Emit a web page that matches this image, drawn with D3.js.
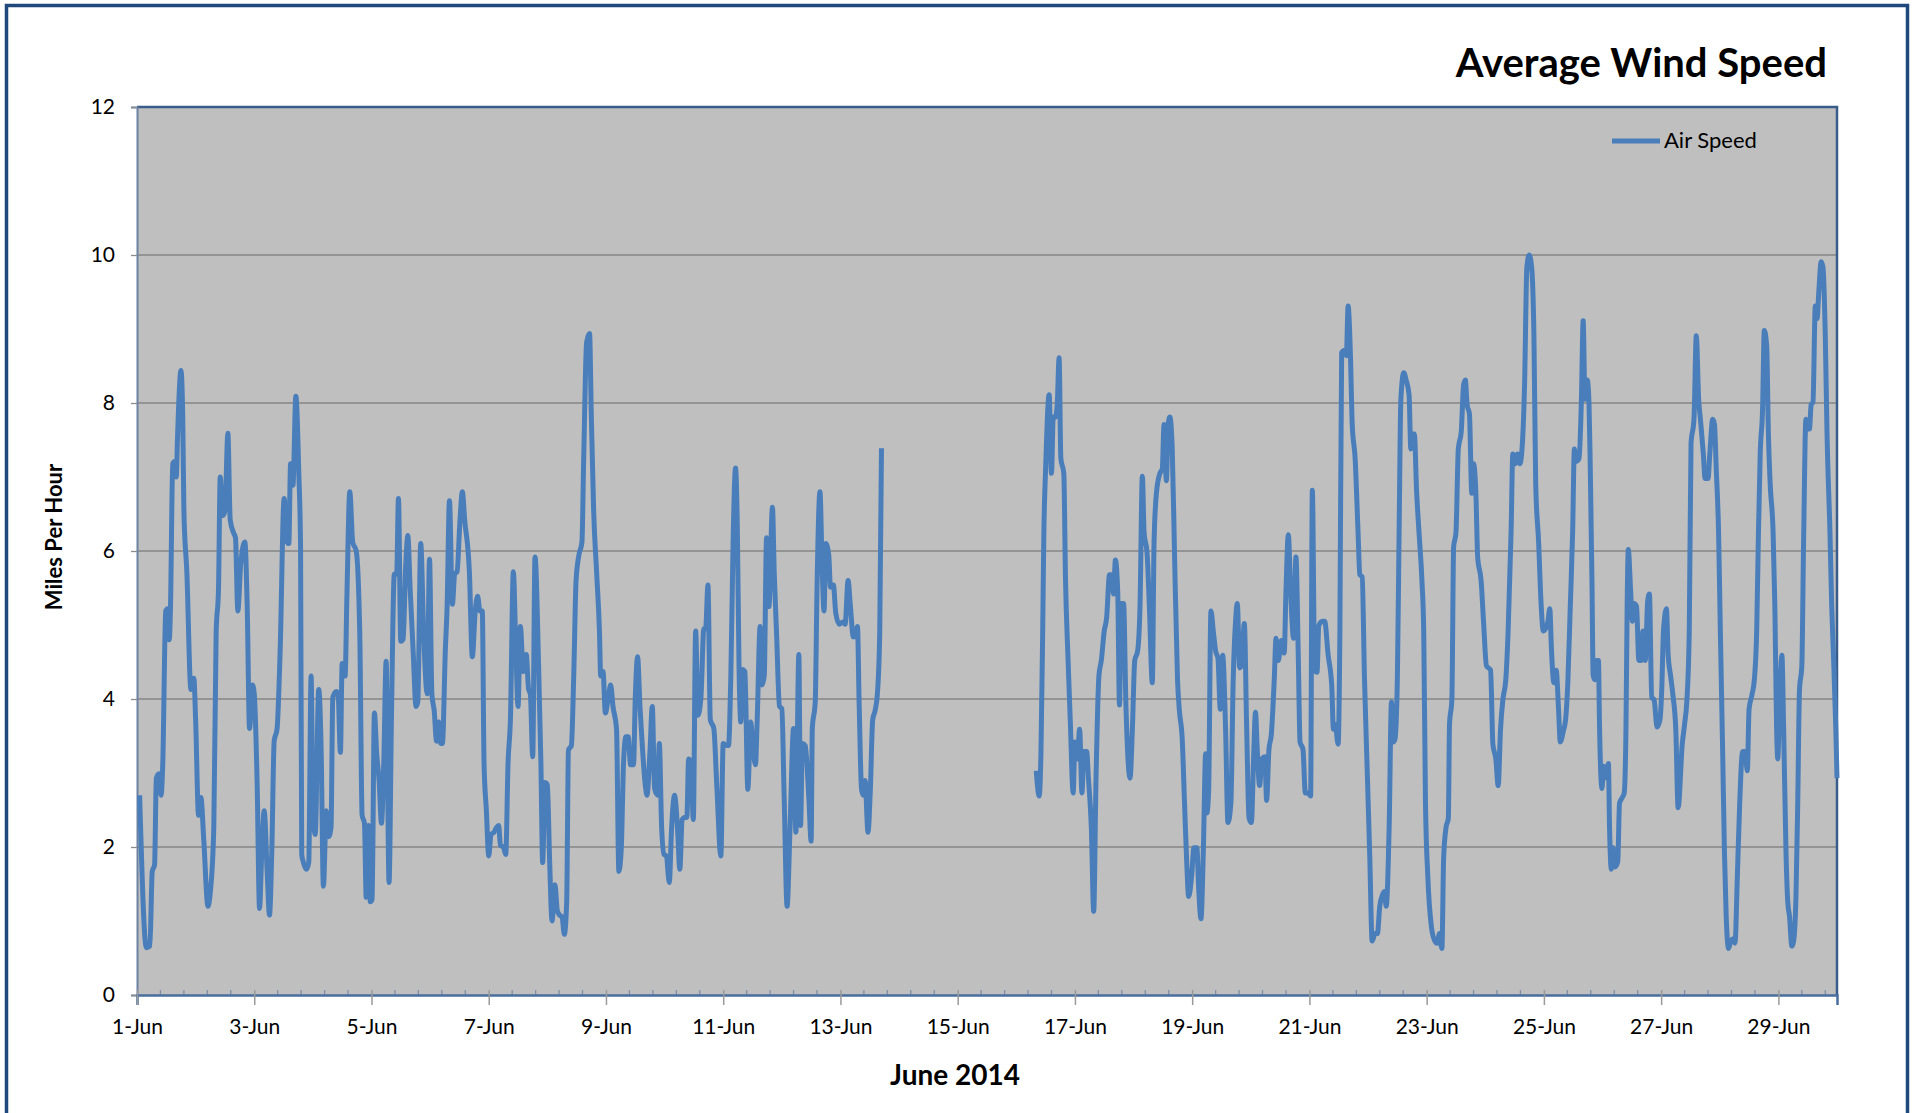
<!DOCTYPE html>
<html>
<head>
<meta charset="utf-8">
<script src="https://cdn.jsdelivr.net/npm/d3@7"></script>
<style>
  body { margin: 0; background: #fff; }
  text { font-family: Lato, "Open Sans", sans-serif; fill: #000; }
</style>
</head>
<body>
<svg width="1917" height="1113"></svg>
<script>
// days after 1-Jun-2014 00:00, null = no data (gap 13-Jun .. 16-Jun)
var days = [0.045,0.16,0.22,0.26,0.30,0.33,0.375,0.41,0.44,0.49,0.52,0.55,0.57,0.61,0.64,0.67,0.69,0.75,0.78,0.80,
0.85,0.92,0.97,1.00,1.05,1.09,1.14,1.21,1.25,1.31,1.35,1.39,1.42,1.46,1.50,1.55,1.59,1.65,1.68,1.72,
1.77,1.84,1.88,1.92,1.97,2.00,2.05,2.09,2.13,2.17,2.22,2.26,2.30,2.34,2.39,2.44,2.51,2.56,2.59,2.62,
2.66,2.71,2.76,2.79,2.81,2.84,2.89,2.93,2.97,3.00,3.04,3.10,3.14,3.18,3.23,3.27,3.31,3.34,3.40,3.43,
3.47,3.50,3.55,3.58,3.63,3.68,3.74,3.80,3.84,3.88,3.91,3.95,3.98,4.01,4.05,4.09,4.13,4.17,4.21,4.25,
4.30,4.34,4.39,4.43,4.46,4.50,4.54,4.58,4.62,4.66,4.71,4.76,4.79,4.84,4.89,4.95,4.99,
5.03,5.07,5.11,5.15,5.18,5.21,5.26,5.29,5.33,5.38,5.42,5.46,5.51,5.55,5.59,5.67,5.72,5.77,5.81,5.85,
5.89,5.92,5.96,6.00,6.04,6.09,6.13,6.17,6.20,6.25,6.29,6.33,6.37,6.42,6.46,6.50,6.54,6.59,6.64,6.68,
6.71,6.75,6.79,6.85,6.89,6.92,6.96,7.00,7.04,7.08,7.13,7.17,7.21,7.25,7.29,7.33,7.36,7.41,7.45,7.49,
7.54,7.59,7.62,7.67,7.72,7.75,7.79,7.84,7.89,7.91,7.95,7.99,8.04,8.08,8.12,8.18,8.22,8.26,8.30,8.34,
8.38,8.42,8.47,8.50,8.54,8.58,8.62,8.67,8.70,8.75,8.79,8.83,8.88,8.91,8.95,8.99,9.03,9.08,9.12,9.17,
9.22,9.26,9.30,9.34,9.38,9.41,9.45,9.49,9.53,9.57,9.62,9.67,9.70,9.74,9.78,
9.84,9.89,9.96,10.00,10.06,10.09,10.13,10.17,10.21,10.24,10.27,10.30,10.33,10.37,10.42,10.47,10.50,10.55,10.58,10.63,
10.66,10.70,10.74,10.78,10.84,10.87,10.91,10.96,11.00,11.04,11.09,11.14,11.20,11.24,11.29,11.32,11.35,11.40,11.46,11.50,
11.52,11.57,11.60,11.65,11.69,11.72,11.75,11.80,11.83,11.88,11.92,11.98,12.04,12.08,12.13,12.17,12.22,12.26,12.29,12.32,
12.36,12.39,12.42,12.47,12.51,12.55,12.59,12.63,12.67,12.70,
14.0,
15.34,15.39,15.42,15.45,15.47,15.50,15.56,15.60,15.63,15.67,15.70,15.73,15.76,15.81,15.84,15.88,15.92,15.97,16.00,16.04,
16.08,16.12,16.15,16.20,16.23,16.28,16.32,16.36,16.41,16.45,16.50,16.54,16.59,16.62,16.66,16.69,16.73,16.76,16.79,16.83,
16.87,16.94,16.98,17.02,17.07,17.11,17.15,17.18,17.23,17.27,17.32,17.35,17.39,17.45,17.49,17.52,17.56,17.59,17.62,17.66,
17.70,17.75,17.78,17.83,17.87,17.91,17.94,17.99,18.03,18.08,18.11,18.15,18.19,18.23,18.25,18.28,18.32,18.36,18.40,18.44,
18.48,18.52,18.57,18.61,18.66,18.70,18.74,18.77,18.81,18.84,18.89,18.93,18.97,19.01,19.05,19.08,19.11,19.15,19.19,19.24,
19.27,19.31,19.35,19.40,19.43,19.47,19.52,19.57,19.60,19.64,19.68,19.73,19.77,19.81,19.84,19.89,19.93,19.98,20.02,20.05,
20.09,20.13,20.16,20.22,20.26,20.32,20.38,20.41,20.44,20.49,20.52,20.55,20.59,20.63,20.66,20.70,20.73,20.78,20.83,20.86,
20.90,20.94,20.99,21.03,21.07,21.12,21.16,21.20,21.25,21.28,21.31,21.36,21.40,21.43,21.46,21.50,21.53,21.56,21.61,21.65,
21.70,21.73,21.76,21.79,21.83,21.87,21.92,21.95,21.98,22.02,22.08,22.14,22.18,22.22,22.26,22.29,22.33,22.37,22.39,22.43,
22.46,22.50,22.54,22.59,22.63,22.66,22.69,22.73,22.77,22.80,22.84,22.87,22.93,22.97,23.02,23.09,23.13,23.18,23.22,23.26,
23.30,23.35,23.39,23.44,23.47,23.51,23.55,23.59,23.62,23.67,23.71,23.75,23.79,23.83,23.86,23.91,23.95,23.99,24.03,24.07,
24.10,24.13,24.17,24.21,24.25,24.28,24.33,24.37,24.41,24.45,24.49,24.52,24.55,24.60,24.64,24.67,24.70,24.74,24.77,24.79,
24.82,24.84,24.87,24.90,24.93,24.95,24.99,25.02,25.07,25.10,25.12,25.15,25.18,25.21,25.26,25.29,25.33,25.37,25.40,25.42,
25.44,25.48,25.51,25.54,25.58,25.62,25.66,25.69,25.73,25.77,25.80,25.84,25.88,25.93,25.98,26.01,26.04,26.09,26.12,26.16,
26.20,26.25,26.29,26.36,26.40,26.44,26.48,26.51,26.56,26.60,26.64,26.67,26.72,26.75,26.80,26.83,26.88,26.91,26.94,26.98,
27.01,27.05,27.08,27.11,27.15,27.19,27.23,27.26,27.30,27.34,27.39,27.43,27.47,27.50,27.55,27.59,27.63,27.66,27.69,27.73,
27.76,27.80,27.83,27.86,27.91,27.94,27.97,27.99,28.02,28.06,28.09,28.13,28.16,28.19,28.23,28.26,28.30,28.33,28.36,28.40,
28.43,28.47,28.50,28.53,28.56,28.59,28.63,28.66,28.69,28.73,28.76,28.80,28.83,28.88,28.91,28.94,28.98,29.00];

// air speed, miles per hour
var speeds = [2.70,0.64,0.66,1.67,1.76,2.93,2.99,2.70,3.14,5.19,5.22,4.80,5.19,7.18,7.21,7.00,7.50,8.44,7.83,6.54,
5.72,4.13,4.28,3.72,2.43,2.67,2.08,1.20,1.38,2.26,4.89,5.48,7.00,6.48,6.54,7.59,6.42,6.24,6.18,5.19,
5.83,6.12,5.25,3.60,4.19,4.07,2.84,1.17,1.96,2.49,1.67,1.08,1.96,3.43,3.60,4.60,6.71,6.12,6.10,7.18,
6.89,8.09,7.06,6.07,1.90,1.79,1.70,1.79,4.31,2.55,2.17,4.13,3.37,1.47,2.49,2.14,2.26,4.02,4.10,4.07,
3.28,4.48,4.31,5.36,6.80,6.12,6.00,4.89,2.43,2.32,1.32,2.29,1.26,1.29,3.81,3.25,2.90,2.32,3.14,4.51,
1.52,3.72,5.69,5.69,6.71,4.78,4.81,5.72,6.21,5.48,4.66,3.90,3.96,6.10,4.89,4.07,5.89,
4.07,3.84,3.43,3.69,3.40,3.40,4.66,5.25,6.68,5.28,5.69,5.72,6.42,6.80,6.42,5.72,4.57,5.19,5.39,5.19,
5.19,3.14,2.49,1.88,2.17,2.20,2.26,2.29,2.02,2.00,1.90,3.14,3.72,5.72,4.78,3.90,4.98,4.37,4.60,4.13,
4.07,3.22,5.92,4.48,3.14,1.79,2.87,2.84,1.79,1.00,1.49,1.14,1.08,1.06,0.82,1.26,3.31,3.37,4.31,5.60,
5.95,6.12,7.24,8.82,8.94,7.83,6.54,5.72,4.89,4.31,4.37,3.81,4.02,4.19,3.90,3.60,1.67,1.96,3.14,3.49,
3.49,3.11,3.11,4.02,4.57,3.90,3.37,2.84,2.70,3.28,3.90,2.79,2.70,3.40,2.26,1.90,1.88,1.52,2.26,2.70,
2.26,1.70,2.37,2.40,2.40,3.19,3.14,2.37,4.92,3.78,4.02,4.95,4.95,5.54,3.72,
3.60,2.84,1.88,3.40,3.37,3.37,4.31,6.18,7.12,6.36,4.43,3.69,4.40,4.37,2.78,3.69,3.43,3.11,3.72,4.98,
4.19,4.31,6.18,5.25,6.59,5.72,4.89,3.90,3.87,2.67,1.20,2.26,3.60,2.20,4.60,2.29,3.40,3.37,2.67,2.08,
3.60,3.96,5.48,6.80,5.72,5.19,6.10,5.95,5.51,5.54,5.16,5.01,5.04,5.01,5.60,5.25,4.84,4.84,4.98,3.90,
2.78,2.70,2.90,2.20,2.78,3.72,3.84,4.07,4.89,7.39,
null,
3.03,2.69,3.26,4.92,6.25,7.11,8.11,7.05,7.81,7.81,8.01,8.61,7.25,7.05,5.59,4.59,3.72,2.73,3.42,3.19,
3.59,2.73,3.29,3.29,2.93,2.26,1.13,2.93,4.32,4.52,4.92,5.09,5.68,5.68,5.42,5.88,5.45,3.92,5.29,5.29,
3.92,2.93,3.59,4.52,4.65,5.25,7.01,6.25,5.98,5.25,4.22,6.12,6.78,7.05,7.11,7.71,6.95,7.71,7.81,7.38,
5.92,4.26,3.86,3.46,2.59,1.73,1.33,1.60,1.99,1.99,1.46,1.03,1.93,3.26,2.46,2.73,5.19,4.92,4.65,4.55,
3.86,4.59,3.59,2.33,2.59,4.26,5.05,5.29,4.42,4.45,5.02,3.59,2.39,2.33,3.26,3.82,3.32,2.83,3.19,3.22,
2.63,3.32,3.52,4.26,4.82,4.52,4.79,4.62,5.45,6.22,5.45,4.82,5.92,4.59,3.42,3.32,2.73,2.73,2.69,6.82,
4.39,4.36,4.99,5.05,5.05,4.59,4.19,3.59,3.66,3.39,4.92,8.68,8.71,8.64,9.31,8.64,7.71,7.25,6.25,5.68,
5.65,4.26,2.93,1.86,0.73,0.83,0.83,1.20,1.36,1.40,1.20,2.26,3.96,3.42,3.46,4.26,6.25,8.05,8.41,8.31,
8.11,7.38,7.58,7.58,6.78,6.25,5.59,4.92,2.59,1.60,0.93,0.73,0.70,0.83,0.63,1.86,2.26,2.39,3.66,3.99,
6.05,6.25,7.38,7.61,8.24,8.31,7.98,7.85,6.78,7.18,6.78,5.92,5.59,5.05,4.45,4.39,3.39,3.19,2.83,3.59,
3.99,4.26,4.92,6.25,7.31,7.18,7.31,7.18,7.31,8.24,9.84,10.00,9.84,8.91,6.91,6.12,5.32,4.92,4.95,5.05,
5.22,4.65,4.22,4.39,3.86,3.42,3.56,3.72,4.26,5.25,6.25,7.38,7.21,7.25,8.05,9.11,8.05,8.31,7.98,7.18,
5.59,4.32,4.26,4.52,4.52,3.59,2.79,3.09,2.93,3.13,2.26,1.70,1.99,1.73,1.80,2.59,2.66,2.73,3.59,5.25,
6.02,5.45,5.05,5.29,5.25,4.52,4.52,4.92,4.52,5.32,5.42,4.02,3.99,3.62,3.72,4.12,4.92,5.22,4.59,4.32,
4.06,3.59,2.53,3.39,3.66,3.99,4.92,7.45,7.78,8.91,8.05,7.78,7.31,6.98,6.98,7.31,7.78,7.71,7.11,6.25,
4.92,3.26,1.93,1.06,0.63,0.73,0.76,0.70,1.60,2.59,3.29,3.29,3.03,3.86,4.06,4.26,4.92,6.25,7.31,7.91,
8.98,8.78,7.58,6.91,6.25,5.25,3.59,3.19,3.92,4.59,3.59,1.93,1.26,1.06,0.66,0.73,1.33,2.59,4.12,4.45,
6.12,7.78,7.65,7.65,7.98,8.01,9.31,9.14,9.51,9.91,9.84,8.91,7.58,6.25,5.25,4.59,3.59,2.93];

var xTickLabels = ["1-Jun","3-Jun","5-Jun","7-Jun","9-Jun","11-Jun","13-Jun","15-Jun",
                   "17-Jun","19-Jun","21-Jun","23-Jun","25-Jun","27-Jun","29-Jun"];
var yTicks = [0, 2, 4, 6, 8, 10, 12];
var seriesName = "Air Speed";

var svg = d3.select("svg");
var plotLeft = 137, plotRight = 1837, plotTop = 107, plotBottom = 995;

var start = new Date(2014, 5, 1);
var end = new Date(2014, 5, 30);
var toDate = function(d) { return new Date(start.getTime() + d * 864e5); };
var parse = d3.timeParse("%d-%b-%Y");

var x = d3.scaleTime().domain([start, end]).range([plotLeft, plotRight]);
var y = d3.scaleLinear().domain([0, 12]).range([plotBottom, plotTop]);

// outer chart border (bottom edge runs past the picture)
svg.append("rect")
  .attr("x", 6.5).attr("y", 5.5)
  .attr("width", 1901).attr("height", 1200)
  .attr("fill", "#fff")
  .attr("stroke", "#1F497D")
  .attr("stroke-width", 3.5);

// plot area
svg.append("rect")
  .attr("x", plotLeft).attr("y", plotTop)
  .attr("width", plotRight - plotLeft).attr("height", plotBottom - plotTop)
  .attr("fill", "#BFBFBF");

// gridlines
svg.append("g")
  .selectAll("line")
  .data(yTicks.filter(function(d) { return d > 0 && d < 12; }))
  .enter().append("line")
  .attr("x1", plotLeft).attr("x2", plotRight)
  .attr("y1", function(d) { return y(d); })
  .attr("y2", function(d) { return y(d); })
  .attr("stroke", "#868686")
  .attr("stroke-width", 1.3);

// top and right border of plot
svg.append("path")
  .attr("d", "M" + plotLeft + "," + plotTop + "H" + plotRight + "V" + plotBottom)
  .attr("fill", "none")
  .attr("stroke", "#385D8A")
  .attr("stroke-width", 2.5);

// y axis
var yAxis = d3.axisLeft(y).tickValues(yTicks).tickSize(6).tickPadding(16);
var gy = svg.append("g").attr("transform", "translate(" + plotLeft + ",0)").call(yAxis);
gy.select(".domain").attr("stroke", "#6C82A2").attr("stroke-width", 2);
gy.selectAll(".tick line").attr("stroke", "#8C8C8C").attr("stroke-width", 1.3);
gy.selectAll(".tick text").attr("font-size", 21).attr("font-family", "Lato").attr("fill", "#000");

// minor x ticks every 0.4 day
svg.append("g")
  .selectAll("line")
  .data(d3.range(1, 73).map(function(i) { return i * 0.4; }).filter(function(d) { return Math.abs(d / 2 - Math.round(d / 2)) > 0.01; }))
  .enter().append("line")
  .attr("x1", function(d) { return x(toDate(d)); })
  .attr("x2", function(d) { return x(toDate(d)); })
  .attr("y1", plotBottom - 5).attr("y2", plotBottom)
  .attr("stroke", "#7F8FA6")
  .attr("stroke-width", 1.3);

// x axis
var tickDates = xTickLabels.map(function(l) { return parse(l + "-2014"); });
var xAxis = d3.axisBottom(x).tickValues(tickDates).tickFormat(function(d, i) { return xTickLabels[i]; })
  .tickSize(10).tickPadding(14);
var gx = svg.append("g").attr("transform", "translate(0," + plotBottom + ")").call(xAxis);
gx.select(".domain").attr("stroke", "#4A6E9E").attr("stroke-width", 2.5);
gx.selectAll(".tick line").attr("stroke", "#9A9A9A").attr("stroke-width", 1.5).attr("y1", -5);
gx.selectAll(".tick text").attr("font-size", 21).attr("font-family", "Lato").attr("fill", "#000");

// series
var points = days.map(function(d, i) { return { t: toDate(d), v: speeds[i] }; });
var line = d3.line()
  .defined(function(d) { return d.v !== null; })
  .x(function(d) { return x(d.t); })
  .y(function(d) { return y(d.v); })
  .curve(d3.curveMonotoneX);

svg.append("path")
  .datum(points)
  .attr("d", line)
  .attr("fill", "none")
  .attr("stroke", "#4A7EBB")
  .attr("stroke-width", 5)
  .attr("stroke-linejoin", "round");

// title
svg.append("text")
  .attr("x", 1827).attr("y", 77)
  .attr("text-anchor", "end")
  .attr("font-size", 40)
  .attr("font-weight", "bold")
  .text("Average Wind Speed");

// legend
svg.append("line")
  .attr("x1", 1612).attr("x2", 1660)
  .attr("y1", 141).attr("y2", 141)
  .attr("stroke", "#4A7EBB")
  .attr("stroke-width", 5);
svg.append("text")
  .attr("x", 1664).attr("y", 148)
  .attr("font-size", 22)
  .text(seriesName);

// axis titles
svg.append("text")
  .attr("transform", "translate(62,537) rotate(-90)")
  .attr("text-anchor", "middle")
  .attr("font-size", 22)
  .attr("font-weight", "bold")
  .text("Miles Per Hour");

svg.append("text")
  .attr("x", 955).attr("y", 1085)
  .attr("text-anchor", "middle")
  .attr("font-size", 28)
  .attr("font-weight", "bold")
  .text("June 2014");
</script>
</body>
</html>
